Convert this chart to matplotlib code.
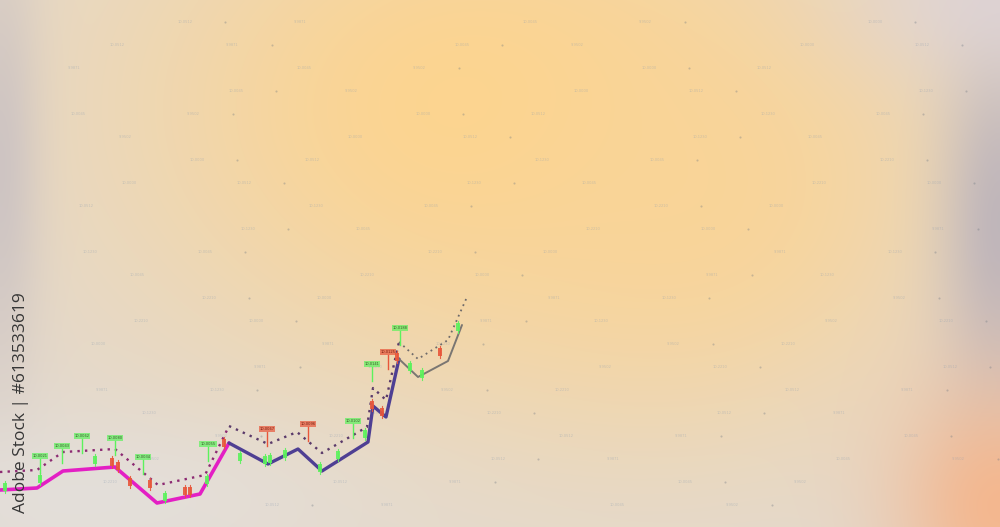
import numpy as np
import matplotlib
matplotlib.use("Agg")
import matplotlib.pyplot as plt

# price path, one point per turn (time step, price level)
solid_t = [0, 37, 63, 115, 157, 200, 229, 268, 298, 322, 368, 373, 386, 399, 418, 448, 462]
solid_p = [37, 39, 56, 60, 24, 33, 84, 63, 78, 56, 85, 121, 110, 168, 150, 166, 202]

# moving-average style dotted line
dot_t = [0, 37, 63, 115, 158, 205, 229, 268, 297, 322, 367, 373, 386, 399, 418, 448, 467]
dot_p = [55, 57, 75, 78, 42, 52, 101, 83, 95, 74, 100, 139, 127, 185, 168, 187, 230]

# candles: time, price, colour (g = up, r = down)
candle_t = [5, 40, 95, 112, 118, 130, 150, 165, 185, 190, 207, 224, 240, 265, 270, 285, 320, 338, 365, 372, 382, 397, 410, 422, 440, 458]
candle_p = [40, 48, 67, 65, 61, 45, 43, 30, 36, 36, 47, 84, 70, 67, 68, 73, 59, 72, 93, 122, 115, 170, 160, 153, 175, 200]
candle_c = ["g", "g", "g", "r", "r", "r", "r", "g", "r", "r", "g", "r", "g", "g", "g", "g", "g", "g", "g", "r", "r", "r", "g", "g", "r", "g"]

# price tags above some candles
tag_t = [40, 62, 82, 115, 143, 208, 267, 308, 353, 372, 388, 400]
tag_p = [68, 78, 88, 86, 67, 80, 95, 100, 103, 160, 172, 196]
tag_c = ["g", "g", "g", "g", "g", "g", "r", "r", "g", "g", "r", "g"]
tag_txt = ["10.0021", "10.0043", "10.0062", "10.0080", "10.0034", "10.0055",
           "10.0067", "10.0096", "10.0102", "10.0141", "10.0125", "10.0188"]

# faint quote labels in the background
quote_txt = ["10.0000", "10.0512", "9.9871", "10.1230", "10.0045", "9.9502", "10.2210"]

W, H = 1000, 527
fig = plt.figure(figsize=(10, 5.27), dpi=100)
ax = fig.add_axes([0, 0, 1, 1])
ax.set_xlim(0, W)
ax.set_ylim(0, H)
ax.axis("off")

# soft background gradient
yy, xx = np.mgrid[0:H, 0:W]
yy = H - yy  # image row 0 is top


def blob(cx, cy, sx, sy):
    return np.exp(-(((xx - cx) / sx) ** 2 + ((yy - cy) / sy) ** 2))


img = np.zeros((H, W, 3))
img[:] = np.array([226, 218, 210]) / 255
layers = [
    ((480, 420), (380, 280), (253, 212, 142), 1.0),
    ((700, 330), (240, 220), (250, 212, 150), 0.85),
    ((1000, 300), (60, 200), (184, 176, 186), 0.85),
    ((1000, 20), (110, 130), (245, 182, 140), 0.95),
    ((990, 527), (150, 80), (222, 212, 218), 0.7),
    ((0, 360), (40, 220), (198, 190, 194), 0.75),
    ((90, 30), (260, 80), (228, 224, 220), 0.8),
]
for (cx, cy), (sx, sy), col, a in layers:
    w = a * blob(cx, cy, sx, sy)[..., None]
    img = img * (1 - w) + np.array(col) / 255 * w
ax.imshow(img, extent=[0, W, 0, H], origin="upper", aspect="auto", zorder=0)

# background quote labels
for row in range(22):
    y = H - 22 - row * 23
    for k in range(8):
        x = 70 + k * 115 + (row * 47) % 90
        if (row + k) % 3 == 0 or x > 960:
            continue
        ax.text(x, y, quote_txt[(row + k) % len(quote_txt)], fontsize=2.6,
                color="#8a9cb0", alpha=0.4, ha="center", va="center", zorder=1)
        if k % 2:
            ax.plot([x + 40], [y], marker=".", ms=1.0, color="#6a7480", alpha=0.35, zorder=1)

# dotted line
ax.plot(dot_t[:7], dot_p[:7], color="#8c2a72", lw=1.7, ls=(0, (1, 2.2)), zorder=3)
ax.plot(dot_t[6:14], dot_p[6:14], color="#5a3a6a", lw=1.7, ls=(0, (1, 2.2)), zorder=3)
ax.plot(dot_t[13:], dot_p[13:], color="#6e6a6a", lw=1.3, ls=(0, (1, 2.2)), zorder=3)

# solid price line, colour shifts along the path
ax.plot(solid_t[:7], solid_p[:7], color="#e31fc4", lw=2.6, solid_capstyle="round", zorder=4)
ax.plot(solid_t[6:14], solid_p[6:14], color="#4e3f93", lw=2.4, solid_capstyle="round", zorder=4)
ax.plot(solid_t[13:], solid_p[13:], color="#7a7672", lw=1.4, solid_capstyle="round", zorder=4)

colors = {"g": "#5cf25c", "r": "#e8563a"}
for t, p, c in zip(candle_t, candle_p, candle_c):
    ax.plot([t, t], [p - 6, p + 6], color=colors[c], lw=0.8, alpha=0.9, zorder=5)
    ax.bar(t, 8, bottom=p - 4, width=4, color=colors[c], alpha=0.9, zorder=5)

for t, p, c, s in zip(tag_t, tag_p, tag_c, tag_txt):
    ax.plot([t, t], [p - 14, p], color=colors[c], lw=1.0, zorder=5)
    ax.text(t, p + 1, s, fontsize=2.6, color="#3c5a2c" if c == "g" else "#7a2010",
            ha="center", va="bottom", zorder=6,
            bbox=dict(boxstyle="square,pad=0.25", fc=colors[c], ec="none", alpha=0.7))

ax.text(21, 124, "Adobe Stock | #613533619", rotation=90, fontsize=12.5,
        color="#363636", ha="center", va="center", family="Open Sans", zorder=7)

fig.savefig("out.png", dpi=100)
